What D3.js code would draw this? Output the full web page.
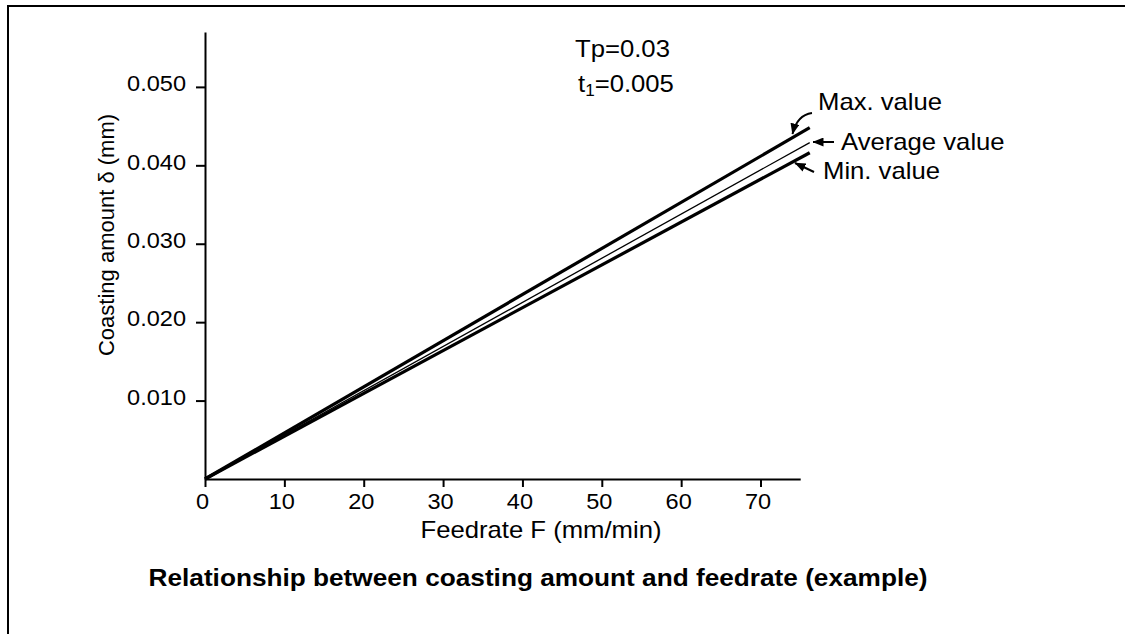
<!DOCTYPE html>
<html>
<head>
<meta charset="utf-8">
<script src="https://cdn.jsdelivr.net/npm/d3@7/dist/d3.min.js"></script>
<style>
  html, body { margin: 0; padding: 0; background: #fff; }
  svg { display: block; }
  text { font-family: "Liberation Sans", Arial, Helvetica, sans-serif; fill: #000; }
</style>
</head>
<body>
<svg id="chart" width="1125" height="634"></svg>
<script>
// ---- data ----
const feedrate = [0, 76.2];
const maxValues = [0, 0.0448];
const avgValues = [0, 0.0429];
const minValues = [0, 0.0416];
const xTickValues = [0, 10, 20, 30, 40, 50, 60, 70];
const yTickValues = [0.010, 0.020, 0.030, 0.040, 0.050];
const seriesNames = ["Max. value", "Average value", "Min. value"];
const paramLines = ["Tp=0.03", "t1=0.005"];
const xTitle = "Feedrate F (mm/min)";
const yTitle = "Coasting amount \u03b4 (mm)";
const chartTitle = "Relationship between coasting amount and feedrate (example)";

const svg = d3.select("#chart");
const SX = 1.07; // horizontal text stretch of the original

// frame (top and left border)
svg.append("line").attr("x1", 7).attr("y1", 6).attr("x2", 1125).attr("y2", 6)
  .attr("stroke", "#000").attr("stroke-width", 2);
svg.append("line").attr("x1", 8).attr("y1", 5).attr("x2", 8).attr("y2", 634)
  .attr("stroke", "#000").attr("stroke-width", 2);

const x = d3.scaleLinear().domain([0, 75]).range([205, 800.2]);
const y = d3.scaleLinear().domain([0, 0.057]).range([479, 32]);

// y axis
const gy = svg.append("g").attr("transform", `translate(${x(0)},0)`)
  .call(d3.axisLeft(y).tickValues(yTickValues).tickSize(9).tickSizeOuter(0)
    .tickFormat(d3.format(".3f")));
gy.select(".domain").attr("stroke", "#000").attr("stroke-width", 2);
gy.selectAll(".tick line").attr("stroke", "#000").attr("stroke-width", 2);
gy.selectAll(".tick text")
  .attr("x", 0).attr("dy", "0.17em")
  .attr("transform", `translate(-19,0) scale(${SX},1)`)
  .style("font-size", "22px").style("font-family", "Liberation Sans, Arial, sans-serif");

// x axis
const gx = svg.append("g").attr("transform", `translate(0,${y(0)})`)
  .call(d3.axisBottom(x).tickValues(xTickValues).tickSize(8).tickSizeOuter(0)
    .tickFormat(d3.format("d")));
gx.select(".domain").attr("stroke", "#000").attr("stroke-width", 2);
gx.selectAll(".tick line").attr("stroke", "#000").attr("stroke-width", 2);
gx.selectAll(".tick text")
  .attr("y", 30).attr("dy", "0")
  .attr("transform", `translate(-3,0) scale(${SX},1)`)
  .style("font-size", "22px").style("font-family", "Liberation Sans, Arial, sans-serif");

// lines
const series = [
  { vals: maxValues, w: 3.2 },
  { vals: avgValues, w: 1.3 },
  { vals: minValues, w: 3.2 }
];
const line = d3.line().x(d => x(d[0])).y(d => y(d[1]));
series.forEach(s => {
  svg.append("path")
    .datum(feedrate.map((f, i) => [f, s.vals[i]]))
    .attr("d", line)
    .attr("fill", "none").attr("stroke", "#000")
    .attr("stroke-width", s.w).attr("stroke-linecap", "butt");
});

// arrow marker
const defs = svg.append("defs");
defs.append("marker").attr("id", "ah")
  .attr("viewBox", "0 0 11 9").attr("refX", 10.5).attr("refY", 4.5)
  .attr("markerWidth", 11).attr("markerHeight", 9)
  .attr("markerUnits", "userSpaceOnUse").attr("orient", "auto")
  .append("path").attr("d", "M0,0 L11,4.5 L0,9 Z").attr("fill", "#000");

// annotation arrows
svg.append("path").attr("d", "M812,113 Q797,115 792.5,134")
  .attr("fill", "none").attr("stroke", "#000").attr("stroke-width", 2)
  .attr("marker-end", "url(#ah)");
svg.append("path").attr("d", "M834,142 L813,142")
  .attr("fill", "none").attr("stroke", "#000").attr("stroke-width", 2)
  .attr("marker-end", "url(#ah)");
svg.append("path").attr("d", "M814,172 L795,163")
  .attr("fill", "none").attr("stroke", "#000").attr("stroke-width", 2)
  .attr("marker-end", "url(#ah)");

function stretchedText(tx, ty, str, size, anchor, weight) {
  return svg.append("text")
    .attr("transform", `translate(${tx},${ty}) scale(${SX},1)`)
    .attr("text-anchor", anchor || "start")
    .style("font-size", size + "px")
    .style("font-weight", weight || "normal")
    .text(str);
}

stretchedText(818, 110, seriesNames[0], 24);
stretchedText(841, 150, seriesNames[1], 24);
stretchedText(823, 179, seriesNames[2], 24);

// parameters
stretchedText(575, 57, paramLines[0], 24);
const t1 = svg.append("text")
  .attr("transform", `translate(578,92) scale(${SX},1)`)
  .style("font-size", "24px");
t1.append("tspan").text(paramLines[1].charAt(0));
t1.append("tspan").attr("dy", 4).style("font-size", "16px").text(paramLines[1].charAt(1));
t1.append("tspan").attr("dy", -4).text(paramLines[1].slice(2));

// axis titles
stretchedText(541, 538, xTitle, 24, "middle");
svg.append("text")
  .attr("transform", "translate(114,235) rotate(-90)")
  .attr("text-anchor", "middle")
  .style("font-size", "22px")
  .text(yTitle);

// chart title
stretchedText(538, 586, chartTitle, 24.5, "middle", "bold");
</script>
</body>
</html>
